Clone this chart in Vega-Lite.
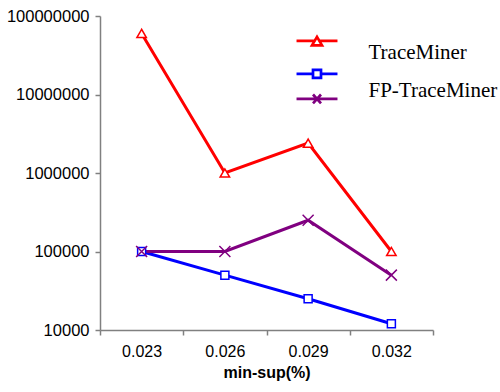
{
  "$schema": "https://vega.github.io/schema/vega-lite/v6.json",
  "width": 333,
  "height": 314,
  "autosize": {"type": "none"},
  "padding": {"left": 100, "top": 16, "right": 67, "bottom": 62},
  "background": "white",
  "config": {"view": {"stroke": null}},
  "data": {"values": [
    {"series": "TraceMiner", "minsup": "0.023", "value": 60000000},
    {"series": "TraceMiner", "minsup": "0.026", "value": 1000000},
    {"series": "TraceMiner", "minsup": "0.029", "value": 2400000},
    {"series": "TraceMiner", "minsup": "0.032", "value": 100000},
    {"series": "Series2", "minsup": "0.023", "value": 100000},
    {"series": "Series2", "minsup": "0.026", "value": 50000},
    {"series": "Series2", "minsup": "0.029", "value": 25000},
    {"series": "Series2", "minsup": "0.032", "value": 12000},
    {"series": "FP-TraceMiner", "minsup": "0.023", "value": 100000},
    {"series": "FP-TraceMiner", "minsup": "0.026", "value": 100000},
    {"series": "FP-TraceMiner", "minsup": "0.029", "value": 250000},
    {"series": "FP-TraceMiner", "minsup": "0.032", "value": 50000}
  ]},
  "encoding": {
    "x": {
      "field": "minsup", "type": "ordinal",
      "scale": {"type": "band", "paddingInner": 0, "paddingOuter": 0},
      "axis": {
        "title": "min-sup(%)", "titleFont": "Liberation Sans", "titleFontSize": 16, "titleFontWeight": "bold", "titleColor": "black", "titlePadding": 5,
        "labelAngle": 0, "labelFont": "Liberation Sans", "labelFontSize": 16, "labelColor": "black", "labelPadding": 8,
        "tickBand": "extent", "tickSize": 5, "tickColor": "#808080", "domainColor": "#808080", "domainWidth": 1.5, "tickWidth": 1.5, "grid": false
      }
    },
    "y": {
      "field": "value", "type": "quantitative",
      "scale": {"type": "log", "domain": [10000, 100000000], "nice": false},
      "axis": {
        "title": null, "values": [10000, 100000, 1000000, 10000000, 100000000], "format": "d",
        "labelFont": "Liberation Sans", "labelFontSize": 16.5, "labelColor": "black", "labelPadding": 6,
        "tickSize": 5, "tickColor": "#808080", "domainColor": "#808080", "domainWidth": 1.5, "tickWidth": 1.5, "grid": false
      }
    }
  },
  "layer": [
    {
      "mark": {"type": "line", "strokeWidth": 3},
      "encoding": {
        "color": {
          "field": "series", "type": "nominal",
          "scale": {"domain": ["TraceMiner", "Series2", "FP-TraceMiner"], "range": ["#ff0000", "#0000ff", "#800080"]},
          "sort": ["TraceMiner", "Series2", "FP-TraceMiner"],
          "legend": {
            "title": null, "orient": "none", "legendX": 206.5, "legendY": 14.4, "padding": 0,
            "symbolSize": 256, "symbolStrokeWidth": 2.7, "rowPadding": -5,
            "labelFont": "Liberation Serif", "labelFontSize": 21, "labelColor": "black", "labelOffset": 41, "labelLimit": 300,
            "labelExpr": "datum.value == 'Series2' ? '' : datum.value",
            "encode": {
              "symbols": {"update": {
                "shape": {"signal": "datum.value == 'TraceMiner' ? 'M-2.56,0H-0.3M0.3,0H2.56M0,-0.5L0.625,0.55L-0.625,0.55Z' : datum.value == 'Series2' ? 'M-2.56,0H-0.5M0.5,0H2.56M-0.5,-0.5H0.5V0.5H-0.5Z' : 'M-2.56,0H2.56M-0.5,-0.55L0.5,0.55M-0.5,0.55L0.5,-0.55'"},
                "fill": {"value": "white"}
              }},
              "labels": {"update": {
                "dy": {"signal": "datum.value == 'TraceMiner' ? 12 : datum.value == 'FP-TraceMiner' ? -8.4 : 0"}
              }}
            }
          }
        }
      }
    },
    {
      "transform": [{"filter": "datum.series == 'TraceMiner'"}],
      "mark": {"type": "point", "shape": "triangle-up", "size": 90, "filled": true, "fill": "white", "stroke": "#ff0000", "strokeWidth": 1.5, "opacity": 1}
    },
    {
      "transform": [{"filter": "datum.series == 'Series2'"}],
      "mark": {"type": "point", "shape": "square", "size": 64, "filled": true, "fill": "white", "stroke": "#0000ff", "strokeWidth": 1.5, "opacity": 1}
    },
    {
      "transform": [{"filter": "datum.series == 'FP-TraceMiner'"}],
      "mark": {"type": "point", "shape": "M-1,-1L1,1M-1,1L1,-1", "size": 121, "filled": false, "stroke": "#800080", "strokeWidth": 1.5, "opacity": 1}
    }
  ]
}
